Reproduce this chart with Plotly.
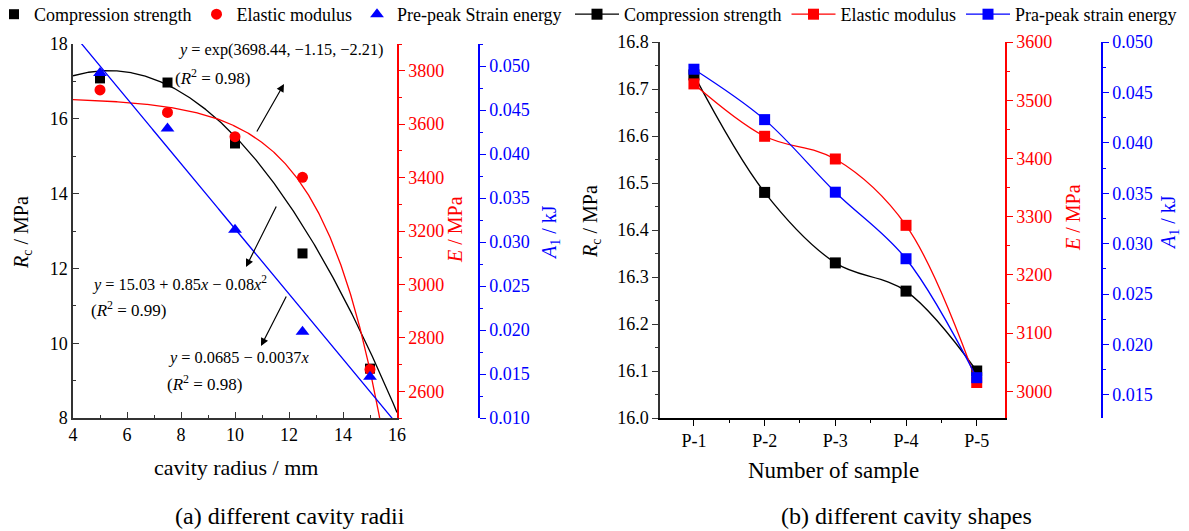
import numpy as np
import plotly.graph_objects as go

W, H = 1189, 531
def px(x):
    return x / W
def py(y):
    return 1 - y / H

FONT = "Liberation Serif"

# ---------------- data: panel (a) ----------------
radius = [5, 7.5, 10, 12.5, 15]
rc_a = [17.08, 16.97, 15.34, 12.40, 9.32]
e_a = [3728, 3644, 3553, 3401, 2682]
a1_a = [0.0492, 0.0429, 0.0314, 0.0198, 0.0147]

# fit coefficients printed on the chart
rc_fit = [15.03, 0.85, -0.08]        # y = a + b x + c x^2
e_fit = [3698.44, -1.15, -2.21]      # y = A + B exp(-x / t)
a1_fit = [0.0685, -0.0037]           # y = a + b x

# ---------------- data: panel (b) ----------------
samples = ["P-1", "P-2", "P-3", "P-4", "P-5"]
rc_b = [16.73, 16.48, 16.33, 16.27, 16.10]
e_b = [3528, 3438, 3399, 3285, 3015]
a1_b = [0.0473, 0.0423, 0.0351, 0.0285, 0.0167]

BLACK, RED, BLUE = "#000000", "#FF0000", "#0000FF"

fig = go.Figure()

xf = np.linspace(4, 16, 481)
fig.add_trace(go.Scatter(x=xf, y=rc_fit[0] + rc_fit[1] * xf + rc_fit[2] * xf ** 2,
                         mode="lines", line=dict(color=BLACK, width=1.3),
                         xaxis="x", yaxis="y", showlegend=False, hoverinfo="skip"))
fig.add_trace(go.Scatter(x=radius, y=rc_a, mode="markers", name="Compression strength",
                         marker=dict(symbol="square", size=10, color=BLACK),
                         xaxis="x", yaxis="y", legend="legend"))
fig.add_trace(go.Scatter(x=xf, y=e_fit[0] + e_fit[1] * np.exp(xf / (-e_fit[2])),
                         mode="lines", line=dict(color=RED, width=1.3),
                         xaxis="x", yaxis="y2", showlegend=False, hoverinfo="skip"))
fig.add_trace(go.Scatter(x=radius, y=e_a, mode="markers", name="Elastic modulus",
                         marker=dict(symbol="circle", size=11, color=RED),
                         xaxis="x", yaxis="y2", legend="legend"))
fig.add_trace(go.Scatter(x=xf, y=a1_fit[0] + a1_fit[1] * xf,
                         mode="lines", line=dict(color=BLUE, width=1.3),
                         xaxis="x", yaxis="y3", showlegend=False, hoverinfo="skip"))
fig.add_trace(go.Scatter(x=radius, y=a1_a, mode="markers", name="Pre-peak Strain energy",
                         marker=dict(symbol="triangle-up", size=12, color=BLUE),
                         xaxis="x", yaxis="y3", legend="legend"))

idx = list(range(len(samples)))
fig.add_trace(go.Scatter(x=idx, y=rc_b, mode="lines+markers", name="Compression strength",
                         line=dict(color=BLACK, width=1.3, shape="spline", smoothing=1),
                         marker=dict(symbol="square", size=11, color=BLACK),
                         xaxis="x2", yaxis="y4", legend="legend2"))
fig.add_trace(go.Scatter(x=idx, y=e_b, mode="lines+markers", name="Elastic modulus",
                         line=dict(color=RED, width=1.3, shape="spline", smoothing=1),
                         marker=dict(symbol="square", size=11, color=RED),
                         xaxis="x2", yaxis="y5", legend="legend2"))
fig.add_trace(go.Scatter(x=idx, y=a1_b, mode="lines+markers", name="Pra-peak strain energy",
                         line=dict(color=BLUE, width=1.3, shape="spline", smoothing=1),
                         marker=dict(symbol="square", size=11, color=BLUE),
                         xaxis="x2", yaxis="y6", legend="legend2"))

tickfont = lambda c: dict(family=FONT, size=18, color=c)

def axstyle(color, ticks, dtick, mdtick, rng, fmt=None, linecolor=None):
    d = dict(range=rng, showgrid=False, zeroline=False, showline=True, automargin=False,
             linecolor=linecolor or color, linewidth=1.5,
             ticks=ticks, ticklen=6, tickwidth=1.3, tickcolor=linecolor or color,
             dtick=dtick, tick0=0, tickfont=tickfont(color),
             minor=dict(ticks=ticks, ticklen=3.5, dtick=mdtick, tickwidth=1.2,
                        tickcolor=linecolor or color, showgrid=False))
    if fmt:
        d["tickformat"] = fmt
    return d

ydom = [py(418), py(44)]
ydom_b = [py(418), py(42)]

layout = dict(
    width=W, height=H, margin=dict(l=0, r=0, t=0, b=0, autoexpand=False),
    paper_bgcolor="white", plot_bgcolor="white",
    font=dict(family=FONT, size=18, color=BLACK),
    xaxis=dict(domain=[px(73), px(397)], anchor="y",
               **axstyle(BLACK, "inside", 2, 1, [4, 16], linecolor="#333333")),
    yaxis=dict(domain=ydom, anchor="x",
               **axstyle(BLACK, "inside", 2, 1, [8, 18], linecolor="#333333")),
    yaxis2=dict(overlaying="y", anchor="x", side="right",
                **axstyle(RED, "outside", 200, 100, [2500, 3900])),
    yaxis3=dict(overlaying="y", anchor="free", position=px(479), side="right",
                **axstyle(BLUE, "outside", 0.005, 0.0025, [0.010, 0.0525], fmt=".3f")),
    xaxis2=dict(domain=[px(660), px(1005)], anchor="y4",
                tickvals=idx, ticktext=samples,
                **{k: v for k, v in axstyle(BLACK, "outside", 1, 0.5, [-0.48, 4.4]).items()
                   if k not in ("dtick", "tick0")}),
    yaxis4=dict(domain=ydom_b, anchor="x2",
                **axstyle(BLACK, "outside", 0.1, 0.05, [16.0, 16.8], fmt=".1f", linecolor="#333333")),
    yaxis5=dict(overlaying="y4", anchor="x2", side="right",
                **axstyle(RED, "outside", 100, 50, [2954, 3600])),
    yaxis6=dict(overlaying="y4", anchor="free", position=px(1102), side="right",
                **axstyle(BLUE, "outside", 0.005, 0.0025, [0.0127, 0.050], fmt=".3f")),
    legend=dict(orientation="h", x=px(-6), y=py(-4), xanchor="left", yanchor="top",
                font=dict(family=FONT, size=18, color=BLACK), bgcolor="rgba(0,0,0,0)",
                itemwidth=30, tracegroupgap=0),
    legend2=dict(orientation="h", x=px(570), y=py(-4), xanchor="left", yanchor="top",
                 font=dict(family=FONT, size=18, color=BLACK), bgcolor="rgba(0,0,0,0)",
                 itemwidth=44, tracegroupgap=0),
)
layout["xaxis2"]["minor"]["dtick"] = 0.5
layout["xaxis2"]["minor"]["tick0"] = 0.5
fig.update_layout(**layout)

anns = []
def txt(x, y, s, size=17, color=BLACK, anchor="left", angle=0):
    anns.append(dict(x=px(x), y=py(y), xref="paper", yref="paper", text=s, showarrow=False,
                     xanchor=anchor, yanchor="middle", textangle=angle,
                     font=dict(family=FONT, size=size, color=color)))

def arrow(x0, y0, x1, y1):
    anns.append(dict(x=px(x1), y=py(y1), xref="paper", yref="paper", ax=x0 - x1, ay=y0 - y1,
                     axref="pixel", ayref="pixel", text="", showarrow=True,
                     arrowhead=2, arrowsize=1.3, arrowwidth=1.2, arrowcolor=BLACK))

EQ = 16.3
txt(176, 50, "<i>y</i> = exp(3698.44, \u22121.15, \u22122.21)", size=EQ)
txt(173, 77, "(<i>R</i><sup>2</sup> = 0.98)")
arrow(256, 133, 284, 84)
txt(90, 283, "<i>y</i> = 15.03 + 0.85<i>x</i> \u2212 0.08<i>x</i><sup>2</sup>", size=EQ)
txt(89, 309, "(<i>R</i><sup>2</sup> = 0.99)")
arrow(277, 205, 246, 267)
txt(166, 357, "<i>y</i> = 0.0685 \u2212 0.0037<i>x</i>", size=EQ)
txt(165, 383, "(<i>R</i><sup>2</sup> = 0.98)")
arrow(287, 295, 261, 346)

# axis titles
txt(22, 233, "<i>R</i><sub>c</sub> / MPa", size=20, anchor="center", angle=-90)
txt(455, 230, "<i>E</i> / MPa", size=20, color=RED, anchor="center", angle=-90)
txt(550, 233, "<i>A</i><sub>1</sub> / kJ", size=20, color=BLUE, anchor="center", angle=-90)
txt(236, 467, "cavity radius / mm", size=22, anchor="center")
txt(290, 516, "(a) different cavity radii", size=24, anchor="center")

txt(592, 222, "<i>R</i><sub>c</sub> / MPa", size=20, anchor="center", angle=-90)
txt(1073, 218, "<i>E</i> / MPa", size=20, color=RED, anchor="center", angle=-90)
txt(1170, 223, "<i>A</i><sub>1</sub> / kJ", size=20, color=BLUE, anchor="center", angle=-90)
txt(833, 470, "Number of sample", size=23, anchor="center")
txt(906, 516, "(b) different cavity shapes", size=24, anchor="center")

fig.update_layout(annotations=anns)
fig.write_html("out.html", config={"displayModeBar": False},
               post_script="document.body.style.margin='0px';")
